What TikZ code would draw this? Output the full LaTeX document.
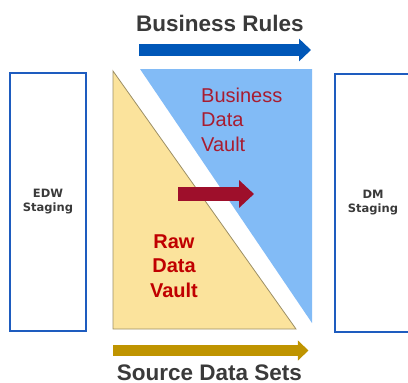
\documentclass[tikz,border=0pt]{standalone}
\usepackage{fontspec}
\setmainfont{Liberation Sans}
\newfontfamily\stagefont{DejaVu Sans}
\usepackage{xcolor}
\usetikzlibrary{arrows.meta}
\definecolor{boxblue}{HTML}{1E5CBF}
\definecolor{rulesblue}{HTML}{0057B8}
\definecolor{vaultblue}{HTML}{82BBF6}
\definecolor{rawyellow}{HTML}{FBE39C}
\definecolor{rawedge}{HTML}{9C8F66}
\definecolor{sourcegold}{HTML}{BF9400}
\definecolor{bdvred}{HTML}{A81C30}
\definecolor{rawred}{HTML}{C00000}
\definecolor{flowred}{HTML}{9E0F2B}
\definecolor{textgray}{HTML}{3A3A3A}

\tikzset{
    stagebox/.style = {draw = boxblue, line width = 2pt, minimum width = 76pt, minimum height = 258pt,
        font = \stagefont\bfseries\fontsize{11.5}{14}\selectfont, text = textgray, align = center},
    heading/.style = {inner sep = 0pt, font = \bfseries\fontsize{22.5}{27}\selectfont, text = textgray}
}

\begin{document}
\begin{tikzpicture}[x = 1pt, y = -1pt]
        \useasboundingbox (0,0) rectangle (408,383);

        % Staging boxes
        \node[stagebox] (edw) at (48,202) {EDW\\Staging};
        \node[stagebox] (dm) at (373,202.5) {DM\\Staging};

        % Vaults
        \fill[vaultblue] (140,69) -- (312,69) -- (312,323) -- cycle;
        \draw[rawedge, line width = 0.8pt, fill = rawyellow] (113,71) -- (113,329) -- (296,329) -- cycle;
        \node[anchor = base west, inner sep = 0pt, align = left, text = bdvred,
            font = \fontsize{20}{24.5}\selectfont] (bdv) at (201,151) {Business\\Data\\Vault};
        \node[anchor = base, inner sep = 0pt, align = center, text = rawred,
            font = \bfseries\fontsize{20}{24.5}\selectfont] (rdv) at (174,297) {Raw\\Data\\Vault};

        % Headings and arrows
        \node[heading, anchor = base] (rules) at (220,31) {Business Rules};
        \node[heading, anchor = base] (sources) at (209.5,380) {Source Data Sets};
        \coordinate (rules-a) at (139,50);
        \coordinate (rules-b) at (311,50);
        \coordinate (src-a) at (113,350.5);
        \coordinate (src-b) at (308.5,350.5);
        \coordinate (flow-a) at (178,194);
        \coordinate (flow-b) at (254,194);
        \draw[rulesblue, line width = 12pt, -{Triangle[length = 12pt, width = 22pt]}] (rules-a) -- (rules-b);
        \draw[sourcegold, line width = 10.7pt, -{Triangle[length = 10.6pt, width = 19.5pt]}] (src-a) -- (src-b);
        \draw[flowred, line width = 14pt, -{Triangle[length = 15pt, width = 27pt]}] (flow-a) -- (flow-b);
    \end{tikzpicture}
\end{document}
